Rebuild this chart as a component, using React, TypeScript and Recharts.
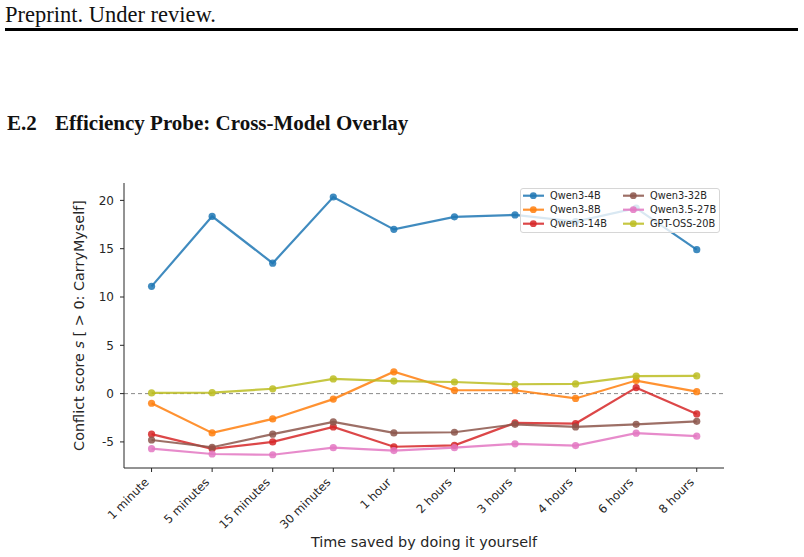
import React from 'react';
import { LineChart, Line, XAxis, YAxis, ReferenceLine, Label } from 'recharts';

const categories = ['1 minute', '5 minutes', '15 minutes', '30 minutes', '1 hour', '2 hours', '3 hours', '4 hours', '6 hours', '8 hours'];
const qwen3_4b = [11.1, 18.35, 13.5, 20.35, 17.0, 18.3, 18.5, 17.8, 19.2, 14.9];
const qwen3_8b = [-1.0, -4.07, -2.62, -0.57, 2.26, 0.35, 0.35, -0.5, 1.35, 0.2];
const qwen3_14b = [-4.2, -5.72, -5.0, -3.45, -5.5, -5.35, -3.03, -3.1, 0.62, -2.1];
const qwen3_32b = [-4.8, -5.55, -4.2, -2.93, -4.07, -4.0, -3.18, -3.45, -3.18, -2.87];
const qwen35_27b = [-5.7, -6.25, -6.33, -5.6, -5.9, -5.6, -5.2, -5.38, -4.1, -4.41];
const gpt_oss_20b = [0.07, 0.1, 0.5, 1.52, 1.3, 1.2, 0.97, 1.0, 1.8, 1.83];
const yTicks = [-5, 0, 5, 10, 15, 20];

const series = [
  { key: 'q4', name: 'Qwen3-4B', color: '#1f77b4', values: qwen3_4b },
  { key: 'q8', name: 'Qwen3-8B', color: '#ff7f0e', values: qwen3_8b },
  { key: 'q14', name: 'Qwen3-14B', color: '#d62728', values: qwen3_14b },
  { key: 'q32', name: 'Qwen3-32B', color: '#8c564b', values: qwen3_32b },
  { key: 'q27', name: 'Qwen3.5-27B', color: '#e377c2', values: qwen35_27b },
  { key: 'gpt', name: 'GPT-OSS-20B', color: '#bcbd22', values: gpt_oss_20b },
];

const data = categories.map((c, i) => {
  const row: any = { idx: i, label: c };
  series.forEach((s) => (row[s.key] = s.values[i]));
  return row;
});

const FONT = '"DejaVu Sans", sans-serif';
const SERIF = '"Liberation Serif", "DejaVu Serif", serif';
const AX = '#262626';

const XTick = (props: any) => {
  const { x, y, payload } = props;
  const X = x - 2;
  const Y = y + 9;
  return (
    <text x={X} y={Y} transform={`rotate(-45, ${X}, ${Y})`} textAnchor="end" fontSize={11.7} fontFamily={FONT} fill={AX}>
      {categories[payload.value]}
    </text>
  );
};

const LegendBox = () => {
  const colX = [0, 100];
  return (
    <div
      style={{
        position: 'absolute',
        left: 520,
        top: 188,
        width: 200,
        height: 45,
        background: 'rgba(255,255,255,0.8)',
        border: '1px solid #d6d6d6',
        borderRadius: 3,
        boxSizing: 'border-box',
      }}
    >
      <svg width={200} height={45} style={{ position: 'absolute', left: -1, top: -1 }}>
        {series.map((s, i) => {
          const col = Math.floor(i / 3);
          const row = i % 3;
          const bx = colX[col];
          const cy = 7.7 + row * 14;
          return (
            <g key={s.key}>
              <line x1={bx + 3} x2={bx + 24} y1={cy} y2={cy} stroke={s.color} strokeWidth={2.2} strokeOpacity={0.85} />
              <circle cx={bx + 13.3} cy={cy} r={3.4} fill={s.color} fillOpacity={0.85} />
              <text x={bx + 30} y={cy + 3.5} fontSize={9.8} fontFamily={FONT} fill={AX}>
                {s.name}
              </text>
            </g>
          );
        })}
      </svg>
    </div>
  );
};

export default function App() {
  return (
    <div style={{ position: 'absolute', left: 0, top: 0, width: 804, height: 557, background: '#fff' }}>
      <svg width={804} height={557} style={{ position: 'absolute', left: 0, top: 0 }}>
        <text x={5} y={22} fontSize={22.5} fontFamily={SERIF} fill="#111">Preprint. Under review.</text>
        <rect x={5} y={28} width={793} height={3} fill="#000" />
        <text x={7} y={130} fontSize={21} fontWeight="bold" fontFamily={SERIF} fill="#111">E.2</text>
        <text x={55} y={130} fontSize={21} fontWeight="bold" fontFamily={SERIF} fill="#111">Efficiency Probe: Cross-Model Overlay</text>
      </svg>
      <div style={{ position: 'absolute', left: 0, top: 0 }}>
        <LineChart width={804} height={557} data={data} margin={{ top: 183, right: 80, bottom: 29, left: 84 }}>
          <XAxis
            dataKey="idx"
            type="number"
            domain={[-0.455, 9.45]}
            ticks={categories.map((_, i) => i)}
            interval={0}
            height={60}
            tick={<XTick />}
            tickSize={4}
            tickMargin={2}
            stroke={AX}
            axisLine={{ stroke: AX, strokeWidth: 1 }}
            tickLine={{ stroke: AX, strokeWidth: 1 }}
            allowDataOverflow
          >
            <Label
              content={() => (
                <text x={424} y={547} textAnchor="middle" fontSize={14.4} fontFamily={FONT} fill={AX}>
                  Time saved by doing it yourself
                </text>
              )}
            />
          </XAxis>
          <YAxis
            type="number"
            domain={[-7.7, 21.8]}
            ticks={yTicks}
            width={40}
            tickSize={4}
            tickMargin={6}
            tick={{ fontSize: 12, fontFamily: FONT, fill: AX }}
            axisLine={{ stroke: AX, strokeWidth: 1 }}
            tickLine={{ stroke: AX, strokeWidth: 1 }}
            allowDataOverflow
          >
            <Label
              content={() => (
                <text x={79} y={325.5} transform="rotate(-90, 79, 325.5)" textAnchor="middle" dominantBaseline="central" fontSize={14.4} fontFamily={FONT} fill={AX}>
                  Conflict score <tspan fontStyle="italic">s</tspan> [ &gt; 0: CarryMyself]
                </text>
              )}
            />
          </YAxis>
          <ReferenceLine y={0} stroke="#8a8a8a" strokeDasharray="4 3" strokeWidth={1} />
          {series.map((s) => (
            <Line
              key={s.key}
              dataKey={s.key}
              name={s.name}
              stroke={s.color}
              strokeWidth={2.2}
              strokeOpacity={0.85}
              dot={{ r: 3.6, fill: s.color, fillOpacity: 0.85, stroke: 'none' }}
              activeDot={false}
              isAnimationActive={false}
            />
          ))}
        </LineChart>
      </div>
      <LegendBox />
    </div>
  );
}
